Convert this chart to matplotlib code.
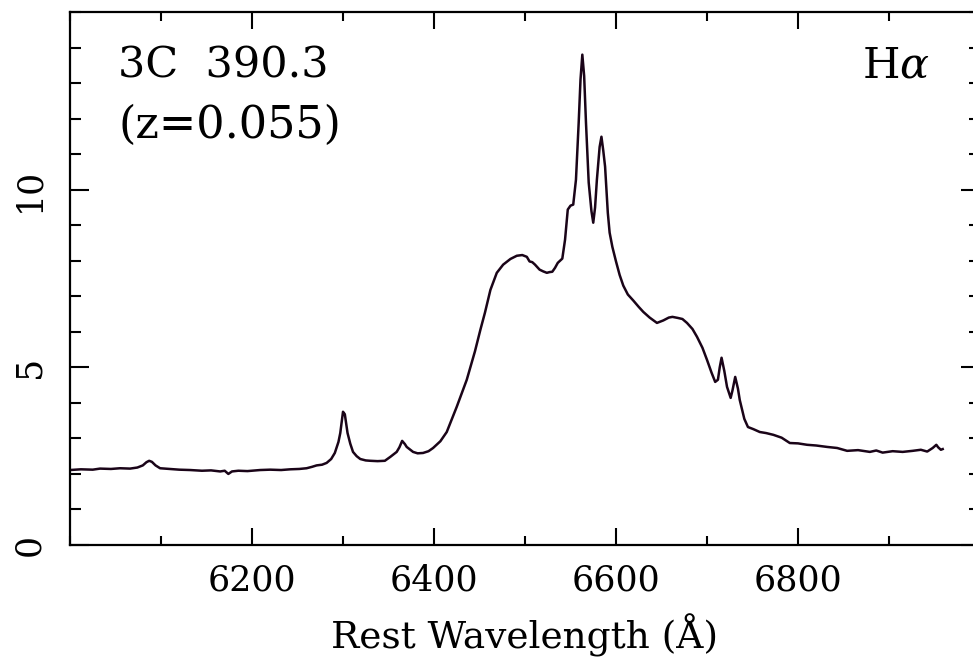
import matplotlib
matplotlib.use("Agg")
import matplotlib.pyplot as plt
from matplotlib.ticker import MultipleLocator, FixedLocator

# spectrum of 3C 390.3 (rest wavelength in A, flux)
wave = [6000, 6012, 6025, 6033, 6045, 6055, 6066, 6074, 6080, 6084,
        6087, 6090, 6094, 6099, 6110, 6120, 6132, 6145, 6155, 6165,
        6170, 6174, 6178, 6185, 6195, 6209, 6220, 6232, 6242, 6252,
        6260, 6266, 6271, 6277, 6282, 6287, 6291, 6295, 6297, 6300,
        6302, 6305, 6308, 6311, 6315, 6319, 6325, 6330, 6338, 6346,
        6352, 6359, 6362, 6365, 6368, 6370, 6377, 6382, 6388, 6394,
        6399, 6407, 6414, 6425, 6436, 6445, 6451, 6456, 6462, 6469,
        6476, 6484, 6491, 6497, 6502, 6505, 6508, 6511, 6516, 6520,
        6524, 6527, 6530, 6533, 6536, 6541, 6544, 6547, 6550, 6553,
        6556, 6559, 6561, 6563, 6565, 6567, 6570, 6573, 6575, 6577,
        6579, 6582, 6584, 6586, 6588, 6591, 6593, 6596, 6600, 6604,
        6608, 6613, 6619, 6625, 6630, 6637, 6645, 6652, 6658, 6662,
        6668, 6673, 6678, 6684, 6689, 6695, 6700, 6705, 6709, 6712,
        6714, 6716, 6719, 6722, 6726, 6728, 6731, 6734, 6736, 6741,
        6745, 6751, 6758, 6765, 6773, 6782, 6791, 6800, 6810, 6820,
        6832, 6843, 6854, 6866, 6879, 6886, 6893, 6904, 6915, 6926,
        6935, 6942, 6948, 6952, 6954, 6957, 6959]
flux = [2.11, 2.13, 2.12, 2.15, 2.14, 2.16, 2.15, 2.18, 2.24, 2.33,
        2.37, 2.34, 2.24, 2.16, 2.14, 2.12, 2.11, 2.09, 2.10, 2.07,
        2.09, 2.00, 2.07, 2.09, 2.08, 2.11, 2.12, 2.11, 2.13, 2.14,
        2.16, 2.20, 2.24, 2.26, 2.31, 2.42, 2.59, 2.90, 3.15, 3.75,
        3.68, 3.15, 2.85, 2.62, 2.50, 2.42, 2.38, 2.37, 2.36, 2.37,
        2.48, 2.62, 2.75, 2.93, 2.84, 2.76, 2.62, 2.58, 2.59, 2.64,
        2.73, 2.92, 3.18, 3.89, 4.65, 5.45, 6.06, 6.54, 7.18, 7.66,
        7.89, 8.05, 8.14, 8.16, 8.11, 7.98, 7.96, 7.89, 7.75, 7.70,
        7.66, 7.68, 7.69, 7.80, 7.94, 8.06, 8.59, 9.44, 9.55, 9.58,
        10.28, 11.89, 13.10, 13.80, 13.20, 11.89, 10.20, 9.40, 9.07, 9.50,
        10.28, 11.20, 11.49, 11.10, 10.65, 9.35, 8.79, 8.39, 7.98, 7.60,
        7.30, 7.05, 6.88, 6.70, 6.56, 6.40, 6.25, 6.32, 6.40, 6.42,
        6.39, 6.36, 6.25, 6.08, 5.86, 5.55, 5.21, 4.85, 4.59, 4.65,
        5.00, 5.27, 4.90, 4.45, 4.14, 4.35, 4.73, 4.40, 4.08, 3.55,
        3.32, 3.26, 3.18, 3.15, 3.10, 3.02, 2.87, 2.86, 2.82, 2.80,
        2.76, 2.73, 2.65, 2.67, 2.62, 2.66, 2.60, 2.64, 2.62, 2.65,
        2.68, 2.63, 2.73, 2.82, 2.75, 2.68, 2.70]

object_name = "3C  390.3"
redshift_text = "(z=0.055)"
line_name = r"H$\alpha$"
x_major = [6200, 6400, 6600, 6800]
y_major = [0, 5, 10]

plt.rcParams['font.family'] = 'DejaVu Serif'
plt.rcParams['mathtext.fontset'] = 'dejavuserif'

fig = plt.figure(figsize=(9.73, 6.62), dpi=100)
ax = fig.add_axes([70 / 973, 117 / 662, 910 / 973, 533 / 662])

ax.plot(wave, flux, color='#1a0418', lw=1.8)

ax.set_xlim(6000, 7000)
ax.set_ylim(0, 15)
ax.xaxis.set_major_locator(FixedLocator(x_major))
ax.xaxis.set_minor_locator(MultipleLocator(100))
ax.yaxis.set_major_locator(FixedLocator(y_major))
ax.yaxis.set_minor_locator(MultipleLocator(1))
ax.tick_params(which='both', direction='in', top=True, right=True, width=1.5,
               colors='black', labelsize=25)
ax.tick_params(axis='x', which='major', length=12, pad=13)
ax.tick_params(axis='x', which='minor', length=6.5)
ax.tick_params(axis='y', which='major', length=14, pad=17)
ax.tick_params(axis='y', which='minor', length=8)
for lab in ax.get_yticklabels():
    lab.set_rotation(90)
    lab.set_va('center')
for sp in ax.spines.values():
    sp.set_linewidth(1.6)

ax.set_xlabel(u"Rest Wavelength (\u00c5)", fontsize=27, labelpad=12)

ax.text((118 - 70) / 910, (545 - 77) / 533, object_name, transform=ax.transAxes,
        fontsize=31, va='baseline', ha='left')
ax.text((118 - 70) / 910, (545 - 138) / 533, redshift_text, transform=ax.transAxes,
        fontsize=32, va='baseline', ha='left')
ax.text((930 - 70) / 910, (545 - 77) / 533, line_name, transform=ax.transAxes,
        fontsize=31, va='baseline', ha='right')

fig.savefig("out.png", dpi=100)
